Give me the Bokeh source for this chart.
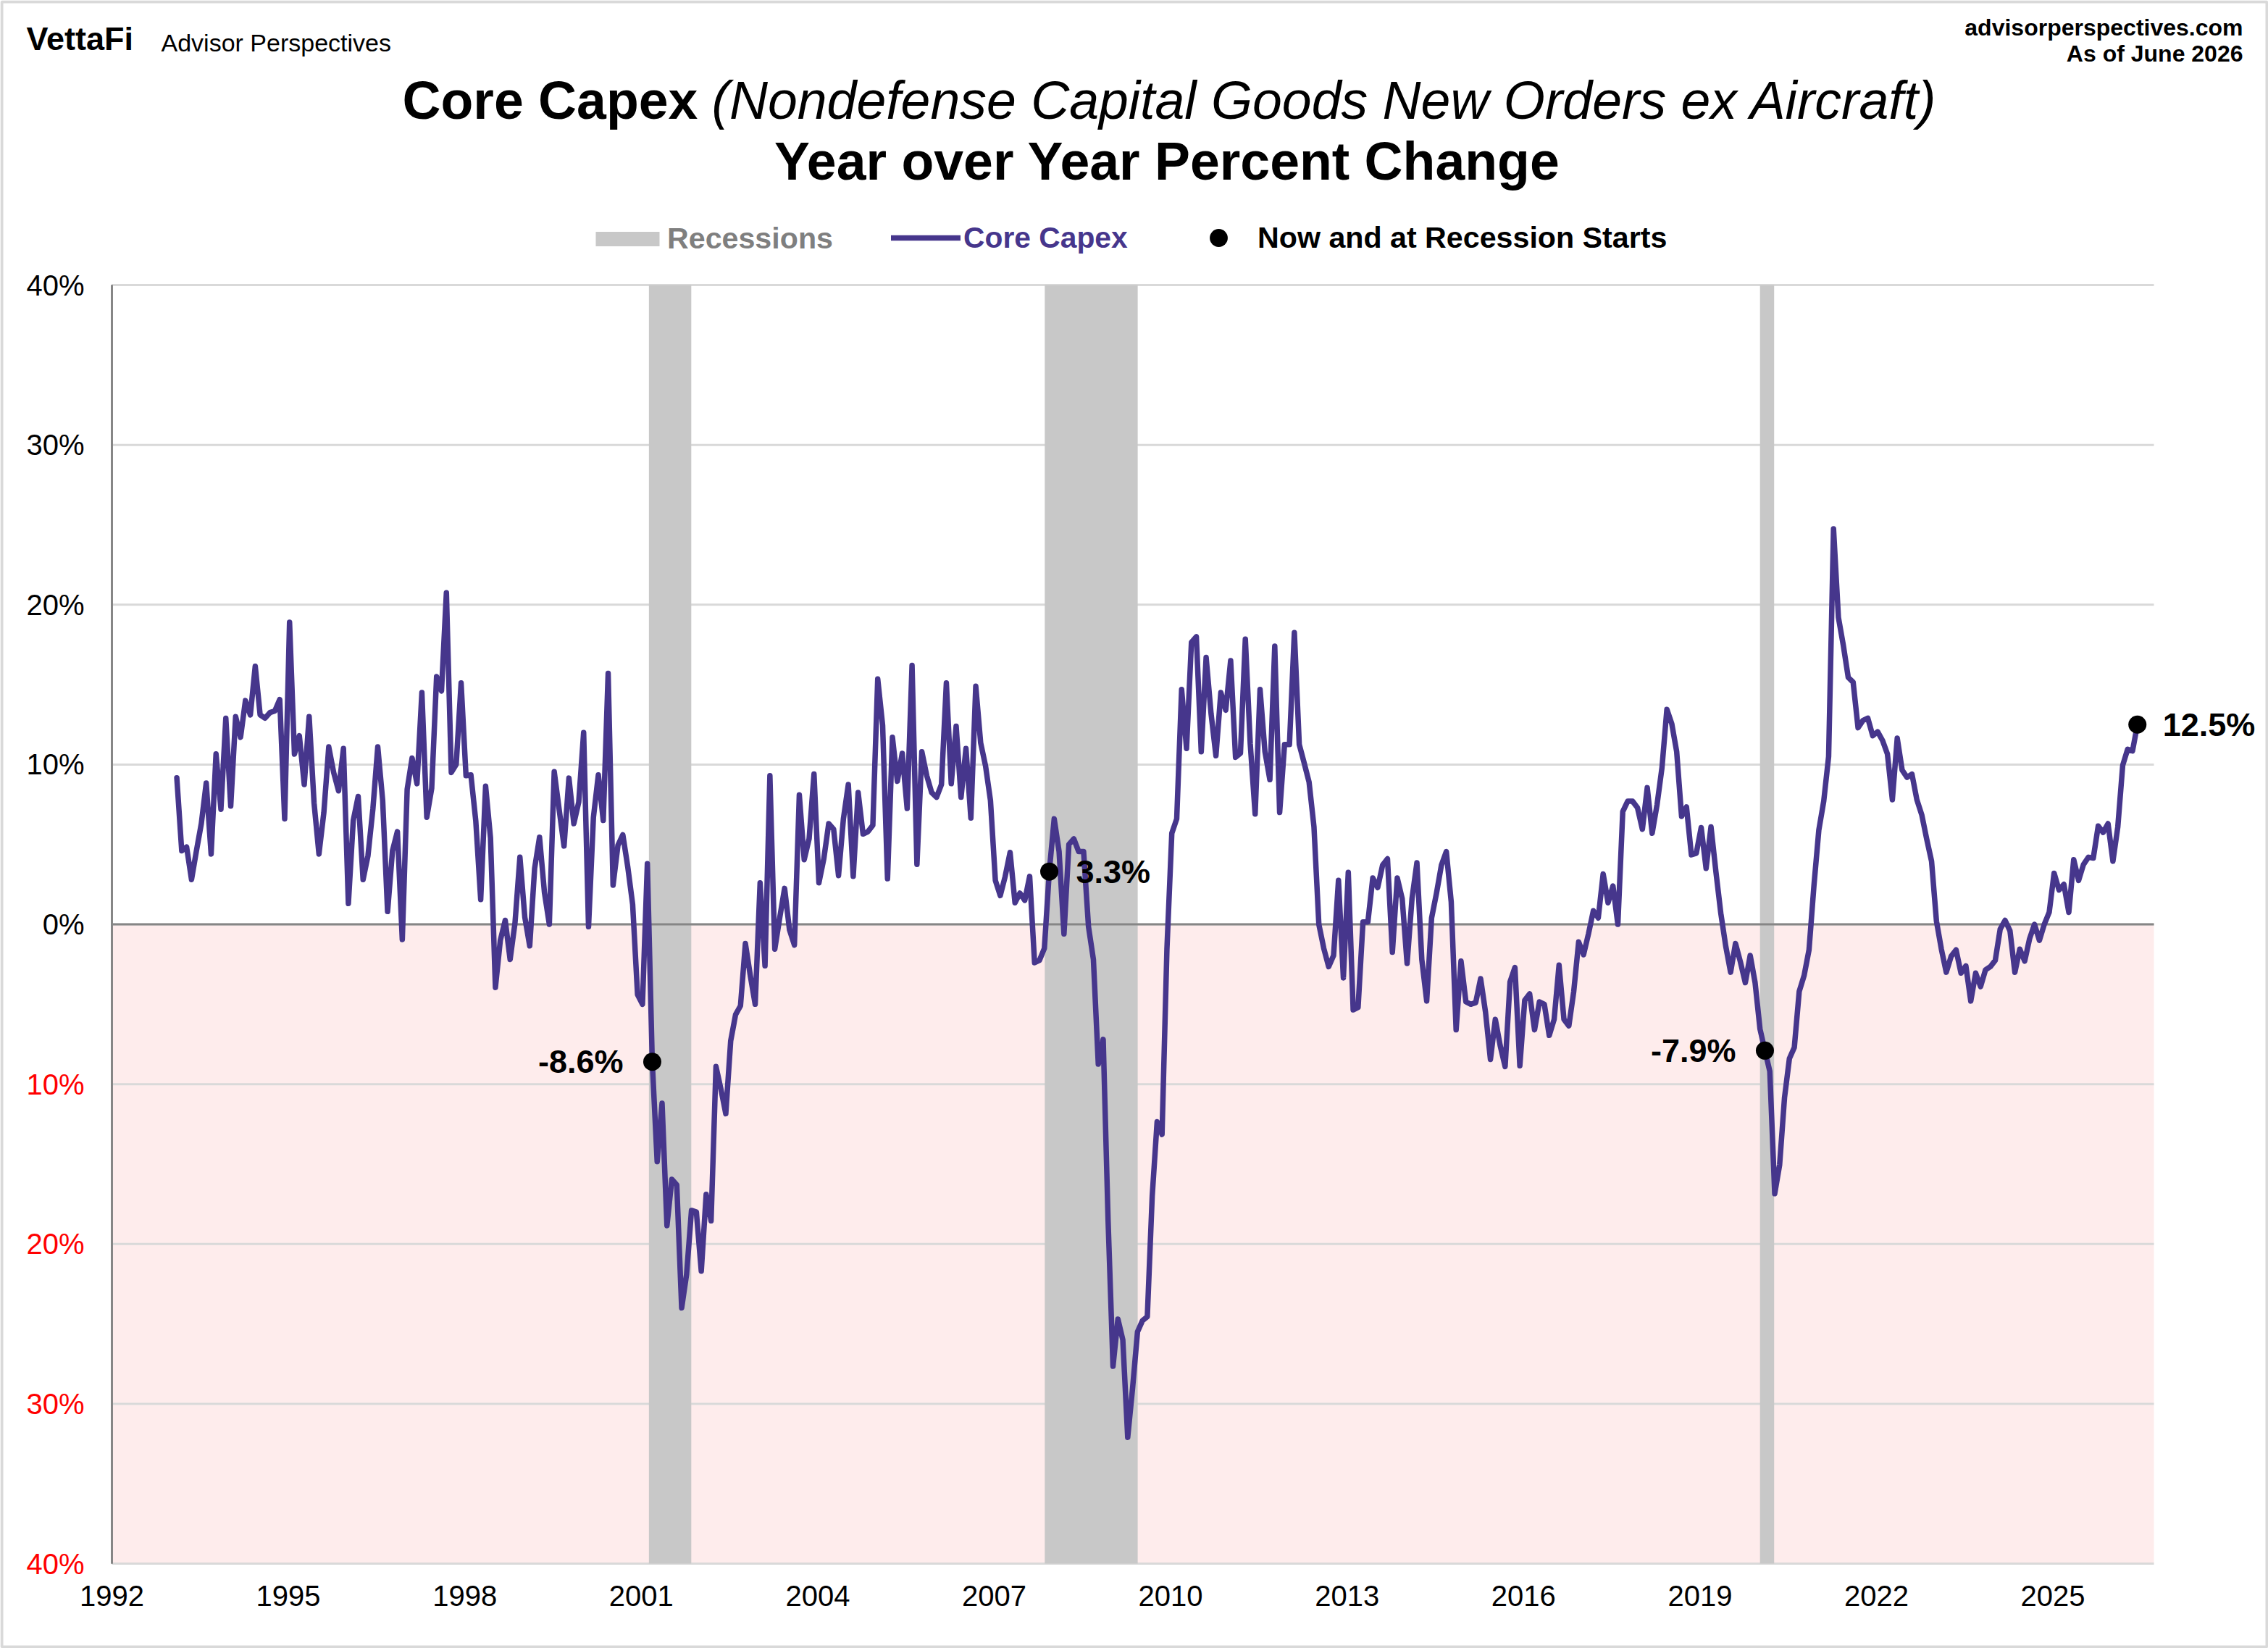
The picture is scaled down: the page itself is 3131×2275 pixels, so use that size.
import pandas as pd
from bokeh.plotting import figure
from bokeh.models import (Range1d, FixedTicker, LinearAxis, Label, Legend, LegendItem,
                          BoxAnnotation, ColumnDataSource)
from bokeh.embed import file_html
from bokeh.resources import INLINE

FONT = "Liberation Sans"

# ---------- data ----------
first_month = "1993-02-01"
last_month = "2026-06-01"

capex_1993_1996 = [9.17, 4.6, 4.84, 2.8, 4.6, 6.3, 8.84, 4.4, 10.66, 7.2, 12.9,
                   7.4, 13.0, 11.7, 14.0, 13.1, 16.15, 13.1, 12.9, 13.25, 13.35, 14.07, 6.6,
                   18.9, 10.65, 11.8, 8.75, 13.0, 7.6, 4.4, 7.0, 11.1, 9.5, 8.35, 11.0,
                   1.3, 6.5, 8.0, 2.8, 4.3, 7.2, 11.1, 7.75, 0.8, 4.6, 5.8, -0.95]
capex_1997_2000 = [8.45, 10.4, 8.8, 14.5, 6.7, 8.5, 15.5, 14.6, 20.75, 9.5, 10.0, 15.1,
                   9.3, 9.35, 6.45, 1.55, 8.65, 5.4, -3.95, -1.0, 0.25, -2.2, 0.1, 4.2,
                   0.45, -1.35, 3.5, 5.45, 2.0, 0.0, 9.55, 7.2, 4.9, 9.15, 6.3, 7.65,
                   12.0, -0.15, 6.7, 9.35, 6.5, 15.7, 2.45, 4.95, 5.6, 3.6, 1.25, -4.4, -5.0]
capex_2001_2004 = [3.8, -8.6, -14.85, -11.2, -18.85, -15.95, -16.3, -24.0, -21.9, -17.9, -18.0,
                   -21.7, -16.9, -18.55, -8.9, -10.3, -11.85, -7.3, -5.65, -5.1, -1.2, -3.2, -5.0,
                   2.6, -2.6, 9.3, -1.55, 0.4, 2.25, -0.35, -1.3, 8.1, 4.05, 5.35, 9.4,
                   2.6, 4.1, 6.3, 5.95, 3.05, 6.6, 8.75, 3.0, 8.25, 5.65, 5.8, 6.2]
capex_2005_2008 = [15.35, 12.45, 2.85, 11.7, 8.95, 10.7, 7.25, 16.2, 3.75, 10.8, 9.3, 8.25,
                   7.95, 8.75, 15.1, 8.8, 12.4, 7.95, 11.0, 6.65, 14.9, 11.35, 9.9, 7.75,
                   2.75, 1.8, 3.0, 4.5, 1.35, 1.95, 1.5, 3.0, -2.4, -2.25, -1.5, 3.3,
                   6.6, 4.55, -0.6, 5.0, 5.35, 4.55, 4.55, -0.15, -2.2, -8.75, -7.2, -18.55]
capex_2009_2012 = [-27.65, -24.7, -26.0, -32.1, -29.0, -25.5, -24.8, -24.55, -17.0, -12.35, -13.15, -1.55,
                   5.7, 6.6, 14.7, 11.0, 17.65, 18.0, 10.8, 16.7, 13.2, 10.55, 14.5, 13.4,
                   16.5, 10.45, 10.7, 17.85, 11.3, 6.9, 14.7, 10.8, 9.05, 17.4, 7.0, 11.25,
                   11.25, 18.25, 11.25, 10.1, 8.9, 6.1, 0.0, -1.5, -2.65, -1.95, 2.75, -3.35]
capex_2013_2016 = [3.25, -5.35, -5.2, 0.15, 0.15, 2.9, 2.3, 3.7, 4.1, -1.75, 2.9, 1.6,
                   -2.45, 1.6, 3.85, -2.2, -4.8, 0.4, 1.95, 3.7, 4.55, 1.4, -6.6, -2.3,
                   -4.85, -5.0, -4.9, -3.4, -5.5, -8.45, -5.95, -7.6, -8.9, -3.6, -2.7, -8.85,
                   -4.75, -4.35, -6.6, -4.85, -5.0, -6.95, -5.95, -2.55, -5.95, -6.35, -4.2, -1.1]
capex_2017_2020 = [-1.9, -0.6, 0.85, 0.4, 3.15, 1.35, 2.4, 0.0, 7.05, 7.7, 7.7, 7.3,
                   5.95, 8.55, 5.7, 7.5, 9.8, 13.45, 12.55, 10.8, 6.75, 7.35, 4.35, 4.45,
                   6.05, 3.5, 6.1, 3.3, 0.7, -1.35, -3.0, -1.2, -2.35, -3.65, -1.95, -3.65,
                   -6.55, -7.9, -9.2, -16.85, -15.05, -10.85, -8.4, -7.7, -4.2, -3.2, -1.6, 2.4]
capex_2021_2023 = [5.9, 7.7, 10.5, 24.75, 19.2, 17.45, 15.45, 15.15, 12.3, 12.75, 12.9, 11.8,
                   12.05, 11.5, 10.65, 7.8, 11.65, 9.65, 9.2, 9.4, 7.8, 6.85, 5.35, 3.95,
                   0.2, -1.55, -3.0, -2.0, -1.6, -3.05, -2.6, -4.8, -3.05, -3.9, -2.85, -2.65]
capex_2024_2026 = [-2.25, -0.3, 0.25, -0.4, -3.0, -1.55, -2.3, -0.9, 0.0, -1.0, 0.0, 0.75,
                   3.2, 2.15, 2.5, 0.75, 4.05, 2.75, 3.75, 4.2, 4.15, 6.15, 5.75, 6.3,
                   3.95, 6.1, 9.95, 10.95, 10.85, 12.5]
core_capex = (capex_1993_1996 + capex_1997_2000 + capex_2001_2004 + capex_2005_2008 +
              capex_2009_2012 + capex_2013_2016 + capex_2017_2020 + capex_2021_2023 + capex_2024_2026)

recession_start = [2001.13, 2007.86, 2020.02]
recession_end = [2001.85, 2009.44, 2020.26]

marker_months = ["2001-03-01", "2007-12-01", "2020-02-01", "2026-06-01"]
marker_labels = ["-8.6%", "3.3%", "-7.9%", "12.5%"]
marker_offsets = [-40, 37, -40, 35]

year_ticks = list(range(1992, 2026, 3))
black_ticks = [40, 30, 20, 10, 0]
black_tick_labels = ["40%", "30%", "20%", "10%", "0%"]
red_ticks = [-10, -20, -30, -40]
red_tick_labels = ["10%", "20%", "30%", "40%"]

months = pd.date_range(first_month, last_month, freq="MS")
def frac(d):
    return d.year + (d.month - 1) / 12 + 0.02
xs = [frac(d) for d in months]
assert len(xs) == len(core_capex), (len(xs), len(core_capex))
value_by_month = dict(zip(months, core_capex))
marker_x = [frac(pd.Timestamp(m)) for m in marker_months]
marker_y = [value_by_month[pd.Timestamp(m)] for m in marker_months]

# ---------- figure: the frame fills the canvas so that nothing gets clipped ----------
W, H = 3131, 2275
PL, PR, PT, PB = 154, 2973, 393, 2158       # plot-area edges in canvas px
X0, X1 = 1992, 2026.717
Y0, Y1 = -40, 40
xpp = (X1 - X0) / (PR - PL)
ypp = (Y1 - Y0) / (PB - PT)

p = figure(width=W, height=H, output_backend="svg", toolbar_location=None, title=None,
           x_range=Range1d(X0 - PL * xpp, X1 + (W - PR) * xpp),
           y_range=Range1d(Y0 - (H - PB) * ypp, Y1 + PT * ypp),
           x_axis_location=None, y_axis_location=None,
           min_border_left=0, min_border_right=0, min_border_top=0, min_border_bottom=0,
           background_fill_color="white", border_fill_color="white", outline_line_color=None)
p.grid.visible = False

def y_axis(ticks, labels, color):
    return LinearAxis(fixed_location=X0, bounds=(Y0, Y1), ticker=FixedTicker(ticks=ticks),
                      major_label_overrides=dict(zip(ticks, labels)),
                      axis_line_color="#868686", axis_line_width=3,
                      major_tick_line_color=None, minor_tick_line_color=None,
                      major_label_text_font=FONT, major_label_text_font_size="40px",
                      major_label_text_color=color, major_label_standoff=32)
p.add_layout(y_axis(black_ticks, black_tick_labels, "black"), "left")
p.add_layout(y_axis(red_ticks, red_tick_labels, "#FF0000"), "left")

xa = LinearAxis(fixed_location=Y0, ticker=FixedTicker(ticks=year_ticks),
                axis_line_color=None, major_tick_line_color=None, minor_tick_line_color=None,
                major_label_text_font=FONT, major_label_text_font_size="40px",
                major_label_text_color="black", major_label_standoff=24)
xa.formatter.use_scientific = False
p.add_layout(xa, "below")

# background band, gridlines, recession bands, zero line
p.quad(left=[X0], right=[X1], bottom=[Y0], top=[0], fill_color="#FEECEC", line_color=None)
grid_levels = black_ticks + red_ticks
p.segment(x0=[X0] * len(grid_levels), x1=[X1] * len(grid_levels), y0=grid_levels, y1=grid_levels,
          line_color="#D9D9D9", line_width=3)
rec = p.quad(left=recession_start, right=recession_end, bottom=Y0, top=Y1,
             fill_color="#C8C8C8", line_color=None)
p.line(x=[X0, X1], y=[0, 0], line_color="#868686", line_width=3)

src = ColumnDataSource(dict(x=xs, y=core_capex))
capex = p.line("x", "y", source=src, line_color="#46368C", line_width=7.5,
               line_join="round", line_cap="round")
dots = p.scatter(marker_x, marker_y, size=25, marker="circle", fill_color="black", line_color="black", line_width=0)

for x, y, t, off in zip(marker_x, marker_y, marker_labels, marker_offsets):
    p.add_layout(Label(x=x, y=y, text=t, x_offset=off, y_offset=0,
                       text_align="right" if off < 0 else "left", text_baseline="middle",
                       text_font=FONT, text_font_size="45px", text_font_style="bold", text_color="black"))

# ---------- texts placed in canvas pixels ----------
def put(text, x, y, size, style="normal", color="black", align="left"):
    # x, y: canvas px from the top-left; y is the text baseline
    p.add_layout(Label(x=x, y=H - y, x_units="screen", y_units="screen", text=text,
                       text_font=FONT, text_font_size=f"{size}px", text_font_style=style,
                       text_color=color, text_align=align, text_baseline="alphabetic"))

put("VettaFi", 36, 53, 45, "bold")
put("Advisor Perspectives", 222, 58, 34)
put("advisorperspectives.com", 3096, 37, 32, "bold", align="right")
put("As of June 2026", 3096, 73, 32, "bold", align="right")
put("Core Capex", 555, 138, 73.4, "bold")
put("(Nondefense Capital Goods New Orders ex Aircraft)", 982, 138, 73.4, "italic")
put("Year over Year Percent Change", 1611, 222, 73.4, "bold", align="center")

# ---------- legends ----------
def legend(label, rend, x, ybottom, gw, gh, color, standoff, size="41.2px"):
    lg = Legend(items=[LegendItem(label=label, renderers=[rend])],
                location=(x, H - ybottom),
                glyph_width=gw, glyph_height=gh, label_height=gh, label_standoff=standoff,
                label_text_font=FONT, label_text_font_size=size, label_text_font_style="bold",
                label_text_color=color, label_text_baseline="middle",
                border_line_color=None, background_fill_alpha=0, padding=0, margin=0, spacing=0)
    p.add_layout(lg, "center")

legend("Recessions", rec, 811, 353, 110, 25, "#7F7F7F", 0)
legend("Core Capex", capex, 1230, 358, 96, 60, "#46368C", 4, "40.8px")
legend("Now and at Recession Starts", dots, 1651, 359, 62, 62, "black", 23)

# outer border
p.add_layout(BoxAnnotation(left=2, right=W - 2, bottom=2, top=H - 2,
                           left_units="screen", right_units="screen", bottom_units="screen", top_units="screen",
                           fill_color=None, line_color="#808080", line_width=4, level="overlay"))

open("out.html", "w").write(file_html(p, INLINE))
